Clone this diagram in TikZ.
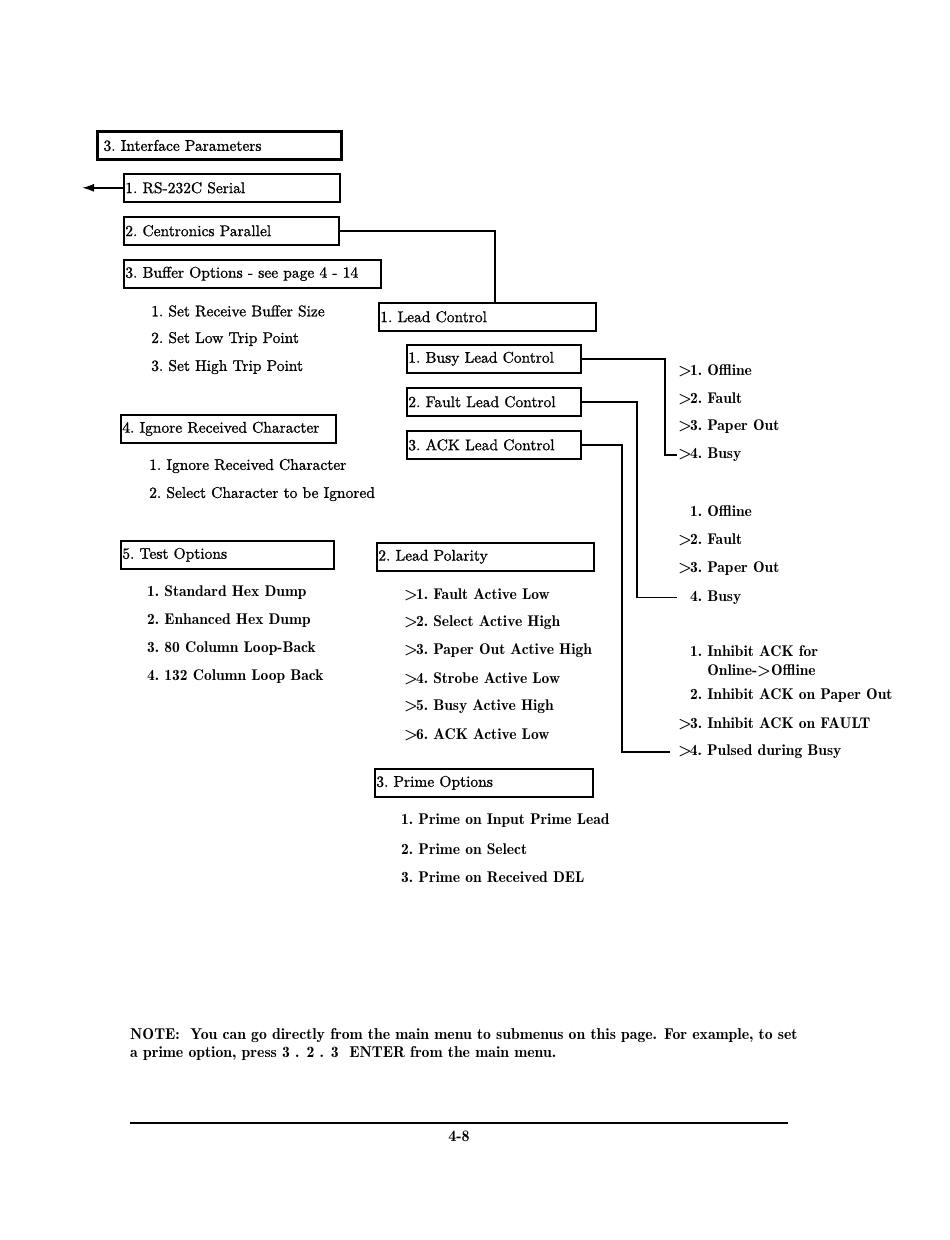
\documentclass[tikz,border=0pt]{standalone}
\usepackage{fontspec}
\setmainfont{lmroman10-regular.otf}[BoldFont=lmroman10-bold.otf]
\newfontfamily\plainfont{lmroman10-regular.otf}[FakeBold=1]
\newfontfamily\heavyfont{lmromandemi10-regular.otf}
\usetikzlibrary{arrows.meta}

\newcommand{\menufont}{\plainfont\frenchspacing\fontsize{15.5}{18}\selectfont}
\newcommand{\boldfont}{\heavyfont\frenchspacing\fontsize{15.5}{18}\selectfont}
\newcommand{\gtmark}{>\kern-2pt}

\tikzset{
  menubox/.style={draw, line width=1.6pt, anchor=north west, minimum height=28pt,
    text width=#1, inner xsep=1.5pt, align=left},
  item/.style={anchor=west, inner sep=1pt},
  heavy/.style={item, font=\boldfont},
  wire/.style={line width=1.7pt},
}

\begin{document}
\begin{tikzpicture}[x=1pt,y=-1pt,font=\menufont]
\useasboundingbox (0,0) rectangle (950,1240);

% left column
\node[menubox=232pt, line width=3pt, inner xsep=6pt] (iface) at (96,130) {3. Interface Parameters};
\node[menubox=213pt] (serial) at (123,173) {1. RS-232C Serial};
\node[menubox=212pt] (centronics) at (123,216) {2. Centronics Parallel};
\node[menubox=254pt] (buffer) at (123,259) {3. Buffer Options - see page 4 - 14};
\foreach \t [count=\i] in {1. Set Receive Buffer Size, 2. Set Low Trip Point, 3. Set High Trip Point}
  \node[item] (buf\i) at (150,{283+28*\i}) {\t};

\node[menubox=212pt] (ignore) at (120,414) {4. Ignore Received Character};
\foreach \t [count=\i] in {1. Ignore Received Character, 2. Select Character to be Ignored}
  \node[item] (ign\i) at (148,{438+28*\i}) {\t};

\node[menubox=210pt] (test) at (120,540) {5. Test Options};
\foreach \t [count=\i] in {1. Standard Hex Dump, 2. Enhanced Hex Dump, 3. 80 Column Loop-Back, 4. 132 Column Loop Back}
  \node[heavy] (test\i) at (146,{565+28*\i}) {\t};

% middle column
\node[menubox=214pt] (leadctl) at (378,302) {1. Lead Control};
\node[menubox=171pt] (busylc) at (406,344) {1. Busy Lead Control};
\node[menubox=171pt] (faultlc) at (406,387) {2. Fault Lead Control};
\node[menubox=171pt] (acklc) at (406,430) {3. ACK Lead Control};

\node[menubox=214pt] (polarity) at (376,542) {2. Lead Polarity};
\foreach \t [count=\i] in {\gtmark1. Fault Active Low, \gtmark2. Select Active High, \gtmark3. Paper Out Active High,
    \gtmark4. Strobe Active Low, \gtmark5. Busy Active High, \gtmark6. ACK Active Low}
  \node[heavy] (pol\i) at (403,{567+28*\i}) {\t};

\node[menubox=215pt] (prime) at (374,768) {3. Prime Options};
\foreach \t [count=\i] in {1. Prime on Input Prime Lead, 2. Prime on Select, 3. Prime on Received DEL}
  \node[heavy] (prime\i) at (400,{793+28*\i}) {\t};

% right column
\foreach \t [count=\i] in {\gtmark1. Offline, \gtmark2. Fault, \gtmark3. Paper Out, \gtmark4. Busy}
  \node[heavy] (busy\i) at (677,{342+28.3*\i}) {\t};
\foreach \t [count=\i] in {\phantom{\gtmark}1. Offline, \gtmark2. Fault, \gtmark3. Paper Out, \phantom{\gtmark}4. Busy}
  \node[heavy] (fault\i) at (677,{483+28.6*\i}) {\t};
\node[heavy] (ack1) at (677,652) {\phantom{\gtmark}1. Inhibit ACK for};
\node[heavy] (ack1b) at (677,671) {\phantom{\gtmark1. }Online->Offline};
\node[heavy] (ack2) at (677,696) {\phantom{\gtmark}2. Inhibit ACK on Paper Out};
\node[heavy] (ack3) at (677,724) {\gtmark3. Inhibit ACK on FAULT};
\node[heavy, outer xsep=7pt] (ack4) at (670,752) {\gtmark4. Pulsed during Busy};

% connectors
\coordinate (rsend) at (82,0);
\coordinate (lcdrop) at (495,302);
\coordinate (busyx) at (665,0);
\coordinate (faultx) at (637,0);
\coordinate (ackx) at (622,0);
\draw[wire, -{Latex[length=12pt,width=8pt]}] (serial.west) -- (serial.west -| rsend);
\draw[wire] (centronics.east) -| (lcdrop);
\draw[wire] (busylc.east) -- (busylc.east -| busyx) |- (busy4.west);
\draw[wire] (faultlc.east) -- (faultlc.east -| faultx) |- (fault4.west);
\draw[wire] (acklc.east) -- (acklc.east -| ackx) |- (ack4.west);

% footer
\node[anchor=north west, align=left, inner sep=0pt, font=\heavyfont\fontsize{15.7}{18}\selectfont] (note) at (130,1028)
  {NOTE:\ \ You can go directly from the main menu to submenus on this page. For example, to set\\
   a prime option, press 3 . 2 . 3 \ ENTER from the main menu.};
\coordinate (ruleL) at (130,1123);
\coordinate (ruleR) at (788,1123);
\draw[line width=1.8pt] (ruleL) -- (ruleR);
\node[font=\heavyfont\fontsize{16}{18}\selectfont] (pageno) at (459,1136) {4-8};
\end{tikzpicture}
\end{document}
